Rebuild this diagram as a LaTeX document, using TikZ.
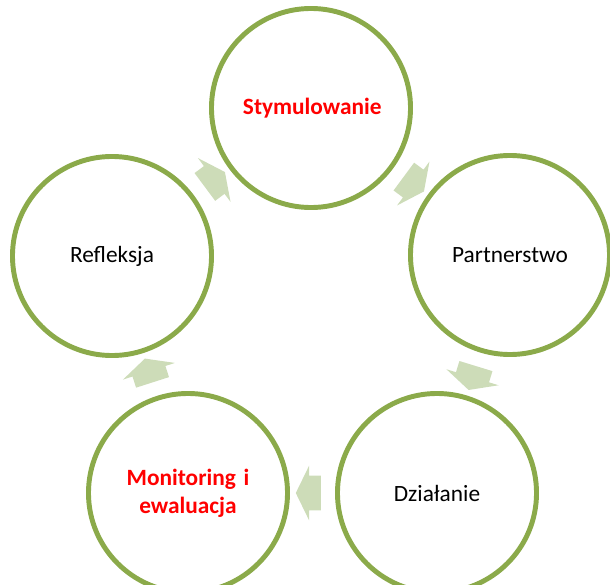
\documentclass[tikz,border=0pt]{standalone}
\usepackage{fontspec}
\setmainfont{Carlito}
\usetikzlibrary{shapes.arrows}
\definecolor{ringgreen}{RGB}{139,170,74}
\definecolor{arrowgreen}{RGB}{205,220,184}
\tikzstyle{stage}=[circle, draw=ringgreen, fill=white, line width=3.5pt, minimum size=4.975cm,
inner sep=0pt, text width=3.4cm, align=center, font=\fontsize{16.6}{19.6}\selectfont]
\tikzstyle{keystage}=[stage, text=red, font=\fontsize{16.6}{19.6}\selectfont\bfseries]
\tikzstyle{flow}=[single arrow, fill=arrowgreen, minimum height=0.625cm, inner xsep=0pt,
inner ysep=0.425cm, single arrow head extend=0.25cm, single arrow tip angle=128,
sloped, allow upside down]

\begin{document}
\begin{tikzpicture}[x=0.025cm,y=-0.025cm]
\useasboundingbox (0,0) rectangle (610,584);
\clip (0,0) rectangle (610,584);
\node[keystage](stage1)at (311,108){Stymulowanie};
\node[stage](stage2)at (510,255){Partnerstwo};
\node[stage](stage3)at (437,493){Działanie};
\node[keystage](stage4)at (188,493){Monitoring i\\ewaluacja};
\node[stage](stage5)at (112,256){Refleksja};
\path (stage1) -- node[flow](arrow1){} (stage2);
\path (stage2) -- node[flow](arrow2){} (stage3);
\path (stage3) -- node[flow](arrow3){} (stage4);
\path (stage4) -- node[flow](arrow4){} (stage5);
\path (stage5) -- node[flow](arrow5){} (stage1);
\end{tikzpicture}
\end{document}
